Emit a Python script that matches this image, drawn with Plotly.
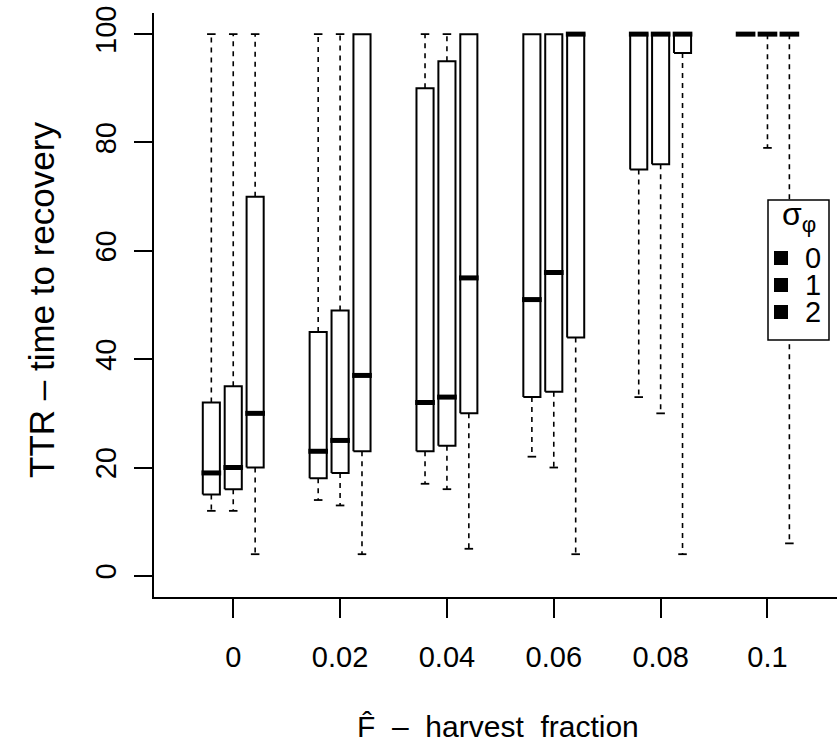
import plotly.graph_objects as go

# Harvest fractions on the x axis and the three sigma_phi levels
fractions = ["0", "0.02", "0.04", "0.06", "0.08", "0.1"]
sigma_levels = ["0", "1", "2"]

# Five-number summaries of time to recovery, one list per sigma_phi level
low_0 = [12, 14, 17, 22, 33, 100]
q1_0 = [15, 18, 23, 33, 75, 100]
med_0 = [19, 23, 32, 51, 100, 100]
q3_0 = [32, 45, 90, 100, 100, 100]
high_0 = [100, 100, 100, 100, 100, 100]

low_1 = [12, 13, 16, 20, 30, 79]
q1_1 = [16, 19, 24, 34, 76, 100]
med_1 = [20, 25, 33, 56, 100, 100]
q3_1 = [35, 49, 95, 100, 100, 100]
high_1 = [100, 100, 100, 100, 100, 100]

low_2 = [4, 4, 5, 4, 4, 6]
q1_2 = [20, 23, 30, 44, 96.5, 100]
med_2 = [30, 37, 55, 100, 100, 100]
q3_2 = [70, 100, 100, 100, 100, 100]
high_2 = [100, 100, 100, 100, 100, 100]

yticks = [0, 20, 40, 60, 80, 100]

series = [
    (low_0, q1_0, med_0, q3_0, high_0),
    (low_1, q1_1, med_1, q3_1, high_1),
    (low_2, q1_2, med_2, q3_2, high_2),
]

FONT = "Liberation Sans, Arial, Helvetica, sans-serif"
W, H = 837, 755
ML, MR, MT, MB = 154, 0, 13, 158
SPREAD = 0.205     # offset between boxes inside a group
HALF = 0.08        # half box width
CAP = 0.04         # half staple width
MED_EXT = 0.012    # thick median slightly overhangs the box

whisk_x, whisk_y = [], []
cap_x, cap_y = [], []
box_x, box_y = [], []
med_x, med_y = [], []

for s, (lo, q1, md, q3, hi) in enumerate(series):
    for g in range(len(fractions)):
        c = g + (s - 1) * SPREAD
        # dashed whiskers with end staples
        if lo[g] < q1[g]:
            whisk_x += [c, c, None]
            whisk_y += [q1[g], lo[g], None]
            cap_x += [c - CAP, c + CAP, None]
            cap_y += [lo[g], lo[g], None]
        if hi[g] > q3[g]:
            whisk_x += [c, c, None]
            whisk_y += [q3[g], hi[g], None]
            cap_x += [c - CAP, c + CAP, None]
            cap_y += [hi[g], hi[g], None]
        # box outline
        box_x += [c - HALF, c + HALF, c + HALF, c - HALF, c - HALF, None]
        box_y += [q1[g], q1[g], q3[g], q3[g], q1[g], None]
        # median bar
        med_x += [c - HALF - MED_EXT, c + HALF + MED_EXT, None]
        med_y += [md[g], md[g], None]

fig = go.Figure()
fig.add_trace(go.Scatter(x=whisk_x, y=whisk_y, mode="lines",
                         line=dict(color="black", width=1.6, dash="5px,5px"),
                         hoverinfo="skip", showlegend=False))
fig.add_trace(go.Scatter(x=cap_x, y=cap_y, mode="lines",
                         line=dict(color="black", width=1.8),
                         hoverinfo="skip", showlegend=False))
fig.add_trace(go.Scatter(x=box_x, y=box_y, mode="lines", fill="toself",
                         fillcolor="white",
                         line=dict(color="black", width=2),
                         hoverinfo="skip", showlegend=False))
fig.add_trace(go.Scatter(x=med_x, y=med_y, mode="lines",
                         line=dict(color="black", width=5),
                         hoverinfo="skip", showlegend=False))

# pixel -> paper helpers for the legend block
pw, ph = W - ML - MR, H - MT - MB


def px(v):
    return (v - ML) / pw


def py(v):
    return (H - MB - v) / ph


ROW = 27  # legend row pitch in pixels
shapes = [dict(type="rect", xref="paper", yref="paper", layer="above",
               x0=px(768), x1=px(829), y0=py(340), y1=py(200),
               line=dict(color="black", width=1.5), fillcolor="white")]
annotations = [dict(xref="paper", yref="paper", x=px(799), y=py(217),
                    text="σ<sub>φ</sub>", showarrow=False,
                    font=dict(family=FONT, size=32, color="black"),
                    xanchor="center", yanchor="middle")]
for i, lab in enumerate(sigma_levels):
    yc = 258 + i * ROW
    shapes.append(dict(type="rect", xref="paper", yref="paper", layer="above",
                       x0=px(774), x1=px(788), y0=py(yc + 7), y1=py(yc - 7),
                       line=dict(color="black", width=0), fillcolor="black"))
    annotations.append(dict(xref="paper", yref="paper", x=px(813), y=py(yc),
                            text=lab, showarrow=False, height=ROW - 1,
                            valign="middle",
                            font=dict(family=FONT, size=29, color="black"),
                            xanchor="center", yanchor="middle"))

# axis titles
annotations.append(dict(xref="paper", yref="paper", x=px(41), y=py(300),
                        text="TTR – time to recovery", textangle=-90,
                        showarrow=False, xanchor="center", yanchor="middle",
                        font=dict(family=FONT, size=35, color="black")))
annotations.append(dict(xref="paper", yref="paper", x=px(498), y=py(727),
                        text="F\u0302\u00a0\u00a0–\u00a0\u00a0harvest\u00a0\u00a0fraction",
                        showarrow=False, xanchor="center", yanchor="middle",
                        font=dict(family=FONT, size=30, color="black")))

fig.update_layout(
    width=W, height=H,
    margin=dict(l=ML, r=MR, t=MT, b=MB, pad=0),
    paper_bgcolor="white", plot_bgcolor="white",
    font=dict(family=FONT, color="black"),
    shapes=shapes, annotations=annotations,
    showlegend=False,
)
fig.update_xaxes(
    range=[-0.7416, 5.6507], tickvals=list(range(len(fractions))),
    ticktext=fractions, showgrid=False, zeroline=False,
    showline=True, linecolor="black", linewidth=2,
    ticks="outside", ticklen=19, tickwidth=2, tickcolor="black",
    tickfont=dict(family=FONT, size=29, color="black"),
    ticklabelstandoff=14,
)
fig.update_yaxes(
    range=[-3.9, 103.9], tickvals=yticks,
    showgrid=False, zeroline=False,
    showline=True, linecolor="black", linewidth=2,
    ticks="outside", ticklen=18, tickwidth=2, tickcolor="black",
    tickangle=-90, tickfont=dict(family=FONT, size=29, color="black"),
    ticklabelstandoff=6,
)

fig.write_html("out.html")
